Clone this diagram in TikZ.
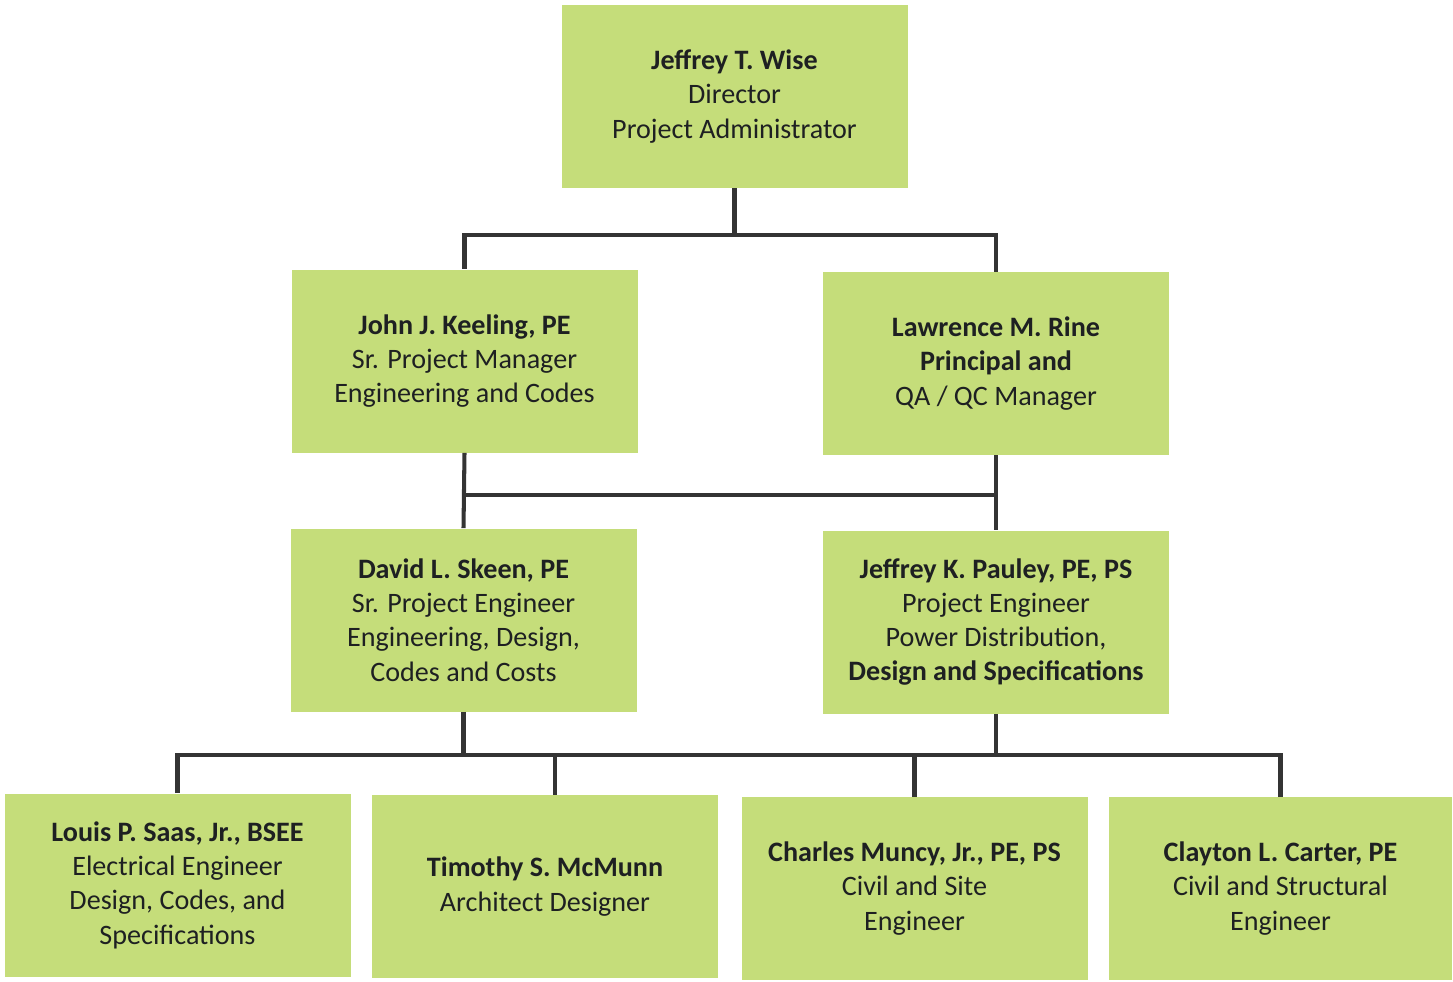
\documentclass[tikz,border=0pt]{standalone}
\usepackage{fontspec}
\setmainfont{Carlito}
\usepackage{tikz}
\usetikzlibrary{calc}
\definecolor{boxgreen}{RGB}{197,221,122}
\definecolor{linegray}{RGB}{52,52,52}
\definecolor{txt}{RGB}{30,32,34}
\tikzset{member/.style={rectangle,fill=boxgreen,text=txt,align=center,
    minimum width=6.92cm,minimum height=3.66cm,inner sep=2pt,
    font=\fontsize{16}{19.5}\selectfont},
  link/.style={draw=linegray,line width=2.3pt}}
\begin{document}
\begin{tikzpicture}
    \useasboundingbox (0,0) rectangle (29.06,-19.62);
    \node[member](top)at(14.69,-1.93){\textbf{Jeffrey T. Wise}\\Director\\Project Administrator};
    \node[member](keeling)at(9.29,-7.22){\textbf{John J. Keeling, PE}\\Sr. Project Manager\\Engineering and Codes};
    \node[member](rine)at(19.92,-7.27){\textbf{Lawrence M. Rine}\\\textbf{Principal and}\\QA / QC Manager};
    \node[member](skeen)at(9.27,-12.4){\textbf{David L. Skeen, PE}\\Sr. Project Engineer\\Engineering, Design,\\Codes and Costs};
    \node[member](pauley)at(19.92,-12.44){\textbf{Jeffrey K. Pauley, PE, PS}\\Project Engineer\\Power Distribution,\\\textbf{Design and Specifications}};
    \node[member](saas)at(3.55,-17.7){\textbf{Louis P. Saas, Jr., BSEE}\\Electrical Engineer\\Design, Codes, and\\Specifications};
    \node[member](mcmunn)at(10.9,-17.73){\textbf{Timothy S. McMunn}\\Architect Designer};
    \node[member](muncy)at(18.29,-17.77){\textbf{Charles Muncy, Jr., PE, PS}\\Civil and Site\\Engineer};
    \node[member,minimum width=6.86cm](carter)at(25.61,-17.77){\textbf{Clayton L. Carter, PE}\\Civil and Structural\\Engineer};
    % top level
    \draw[link] (top.south) -- ++(0,-0.94) -| (keeling.north);
    \draw[link] (top.south) -- ++(0,-0.94) -| (rine.north);
    % middle level
    \draw[link] (keeling.south) -- (skeen.north);
    \draw[link] (rine.south) -- (pauley.north);
    \draw[link] (keeling.south |- 0,-9.9) -- (rine.south |- 0,-9.9);
    % bottom level
    \draw[link] (skeen.south) -- (skeen.south |- 0,-15.1);
    \draw[link] (pauley.south) -- (pauley.south |- 0,-15.1);
    \draw[link] (saas.north) -- (saas.north |- 0,-15.1) -| (carter.north);
    \draw[link] ([xshift=0.2cm]mcmunn.north) -- ([xshift=0.2cm]mcmunn.north |- 0,-15.1);
    \draw[link] (muncy.north) -- (muncy.north |- 0,-15.1);
\end{tikzpicture}
\end{document}
